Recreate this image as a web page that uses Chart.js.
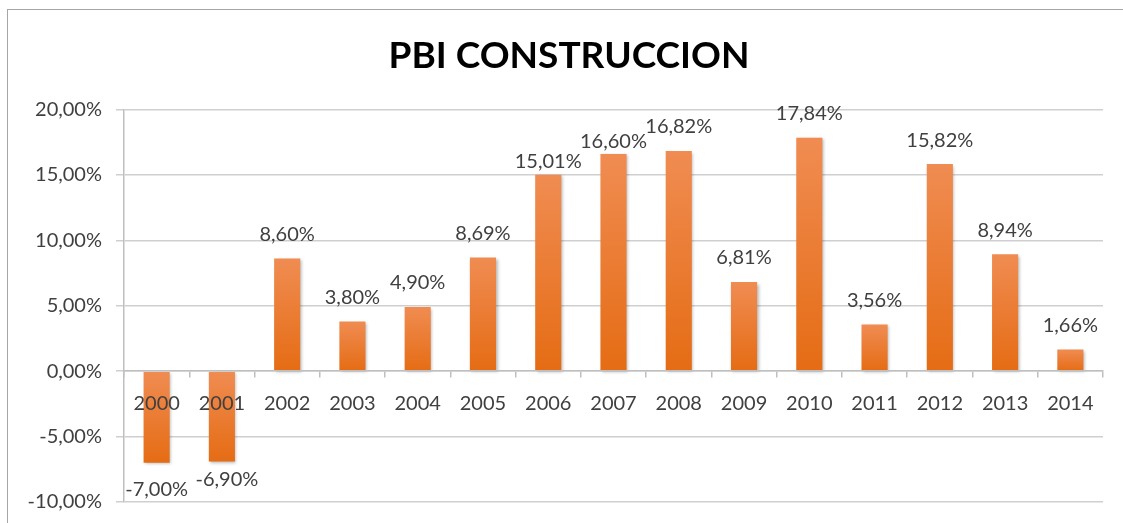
<!DOCTYPE html>
<html>
<head>
<meta charset="utf-8">
<script src="https://cdn.jsdelivr.net/npm/chart.js@4.4.1/dist/chart.umd.min.js"></script>
<style>
  html, body { margin: 0; padding: 0; background: #fff; }
  #wrap { position: relative; width: 1123px; height: 523px; overflow: hidden; }
  #frame { position: absolute; left: 7px; top: 9px; width: 1200px; height: 600px;
           border-left: 1.5px solid #a6a6a6; border-top: 1.5px solid #a6a6a6; }
  canvas { position: absolute; left: 0; top: 0; }
</style>
</head>
<body>
<div id="wrap">
  <div id="frame"></div>
  <canvas id="chartPbi" width="1123" height="528"></canvas>
</div>
<script>
const anios = ["2000", "2001", "2002", "2003", "2004", "2005", "2006", "2007",
               "2008", "2009", "2010", "2011", "2012", "2013", "2014"];
const pbiConstruccion = [-7.00, -6.90, 8.60, 3.80, 4.90, 8.69, 15.01, 16.60,
                         16.82, 6.81, 17.84, 3.56, 15.82, 8.94, 1.66];
const ejeY = { min: -10, max: 20, paso: 5 };

const textoGris = "#404040";
const fuente = "Lato, 'Open Sans', sans-serif";

function formatoPct(v) {
    return v.toFixed(2).replace(".", ",") + "%";
}

// degradado naranja por barra (claro arriba, oscuro abajo)
function colorBarra(c) {
    const chart = c.chart;
    const y = chart.scales.y;
    if (!chart.chartArea || !y || typeof c.raw !== "number") return "#ec7a2c";
    const arriba = y.getPixelForValue(Math.max(c.raw, 0));
    const abajo = y.getPixelForValue(Math.min(c.raw, 0));
    if (!isFinite(arriba) || !isFinite(abajo) || arriba === abajo) return "#ec7a2c";
    const g = chart.ctx.createLinearGradient(0, arriba, 0, abajo);
    g.addColorStop(0, "#f08c52");
    g.addColorStop(1, "#e56c14");
    return g;
}

// etiquetas de valor sobre/bajo las barras
const etiquetasPlugin = {
    id: "etiquetas",
    afterLayout(chart) {
        // el titulo en el original esta algo corrido a la derecha
        if (chart.titleBlock) chart.titleBlock.left += 30;
    },
    beforeDatasetsDraw(chart) {
        const ctx = chart.ctx;
        ctx.save();
        ctx.shadowColor = "rgba(0,0,0,0.28)";
        ctx.shadowBlur = 3;
        ctx.shadowOffsetX = 1.5;
        ctx.shadowOffsetY = 1.5;
    },
    afterDatasetsDraw(chart, args, opts) {
        const ctx = chart.ctx;
        ctx.restore();
        const meta = chart.getDatasetMeta(0);
        ctx.save();
        ctx.font = "20px " + fuente;
        ctx.fillStyle = textoGris;
        ctx.textAlign = "center";
        ctx.textBaseline = "middle";
        meta.data.forEach((bar, i) => {
            const v = pbiConstruccion[i];
            const ajuste = opts.ajustes[i] || {};
            const dy = ajuste.dy !== undefined ? ajuste.dy : opts.distancia;
            const dx = ajuste.dx || 0;
            const y = v >= 0 ? bar.y - dy : bar.y + dy;
            ctx.fillText(formatoPct(v), bar.x + dx, y);
        });
        ctx.restore();
    }
};

new Chart(document.getElementById("chartPbi"), {
    type: "bar",
    data: {
        labels: anios,
        datasets: [{
            label: "PBI Construcción",
            data: pbiConstruccion,
            backgroundColor: colorBarra,
            borderWidth: 0,
            categoryPercentage: 1,
            barPercentage: 0.4
        }]
    },
    options: {
        responsive: false,
        animation: false,
        events: [],
        layout: { padding: { left: 5, right: 20, top: 0, bottom: 15 } },
        plugins: {
            legend: { display: false },
            tooltip: { enabled: false },
            title: {
                display: true,
                text: "PBI CONSTRUCCION",
                color: "#000",
                font: { family: fuente, size: 37, weight: "bold", lineHeight: 1.2 },
                padding: { top: 34, bottom: 31 }
            },
            etiquetas: {
                distancia: 24,
                ajustes: { 0: { dy: 27 }, 1: { dy: 18, dx: 5 }, 6: { dy: 13 }, 7: { dy: 12 } }
            }
        },
        scales: {
            x: {
                position: { y: 0 },
                grid: {
                    offset: true,
                    drawOnChartArea: false,
                    drawTicks: true,
                    tickLength: 6,
                    color: "#bfbfbf",
                    lineWidth: 1.5
                },
                border: { color: "#bfbfbf", width: 1.5, z: 1 },
                ticks: {
                    z: 1,
                    color: textoGris,
                    font: { family: fuente, size: 20 },
                    padding: 14,
                    maxRotation: 0,
                    autoSkip: false
                }
            },
            y: {
                min: ejeY.min,
                max: ejeY.max,
                afterFit(scale) { scale.width = 119; },
                grid: {
                    color: "#cfcfcf",
                    lineWidth: 1.5,
                    tickLength: 8
                },
                border: { color: "#bfbfbf", width: 1.5 },
                ticks: {
                    stepSize: ejeY.paso,
                    color: textoGris,
                    font: { family: fuente, size: 20 },
                    padding: 14,
                    callback: (v) => formatoPct(v)
                }
            }
        }
    },
    plugins: [etiquetasPlugin]
});
</script>
</body>
</html>
